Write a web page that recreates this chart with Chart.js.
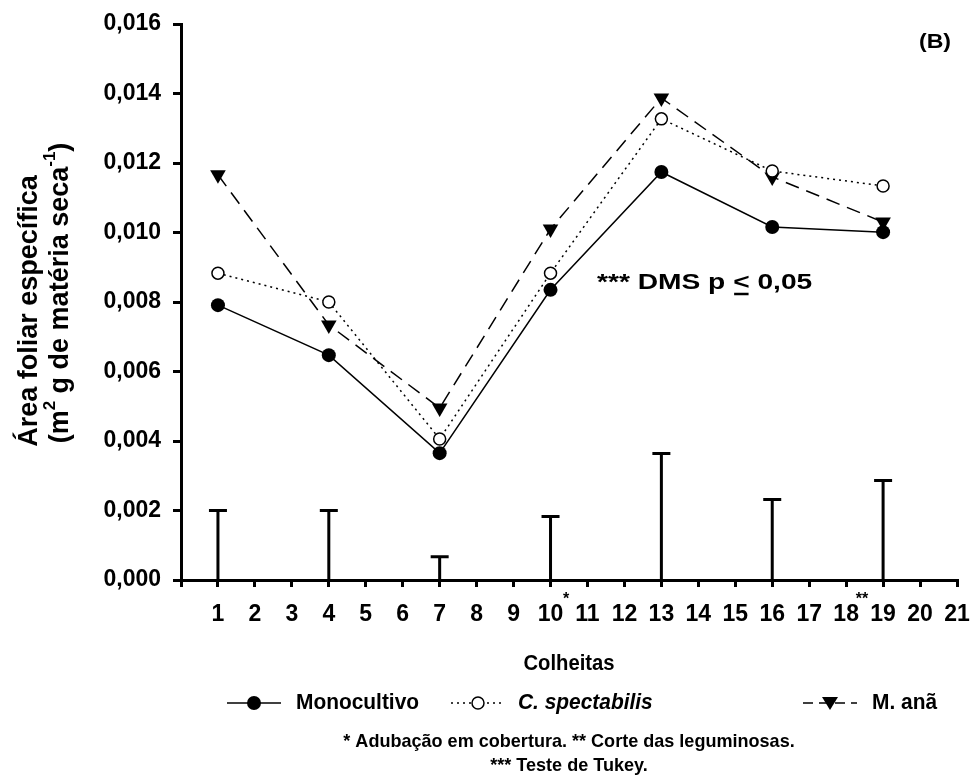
<!DOCTYPE html>
<html>
<head>
<meta charset="utf-8">
<script src="https://cdn.jsdelivr.net/npm/chart.js@4.4.1/dist/chart.umd.min.js"></script>
<style>
  html, body { margin: 0; padding: 0; background: #fff; }
  #chart { display: block; }
</style>
</head>
<body>
<canvas id="chart" width="971" height="781"></canvas>
<script>
// Colheitas (harvests) where the series were measured
const colheitas = [1, 4, 7, 10, 13, 16, 19];
const monocultivo = [0.00791, 0.00647, 0.00365, 0.00835, 0.01174, 0.01016, 0.01001];
const spectabilis = [0.00883, 0.00800, 0.00406, 0.00883, 0.01327, 0.01177, 0.01134];
const manA = [0.01166, 0.00734, 0.00495, 0.01010, 0.01387, 0.01160, 0.01030];
// DMS (Tukey, p <= 0,05) bars
const dms = [0.00200, 0.00200, 0.00067, 0.00183, 0.00364, 0.00232, 0.00286];

const xTickLabels = ['', '1', '2', '3', '4', '5', '6', '7', '8', '9', '10', '11',
  '12', '13', '14', '15', '16', '17', '18', '19', '20', '21'];
const yTickLabels = ['0,000', '0,002', '0,004', '0,006', '0,008', '0,010', '0,012', '0,014', '0,016'];

const FONT = '"Liberation Sans", Arial, sans-serif';

function toPoints(values) {
    return colheitas.map((c, i) => ({ x: c, y: values[i] }));
}

function bold(size) {
    return 'bold ' + size + 'px ' + FONT;
}

// text with a horizontal stretch (the figure's lettering is wider than plain Arial)
function stretchText(ctx, text, x, y, sx, align) {
    ctx.save();
    ctx.translate(x, y);
    ctx.scale(sx, 1);
    ctx.textAlign = align || 'left';
    ctx.fillText(text, 0, 0);
    ctx.restore();
    return ctx.measureText(text).width * sx;
}

// draws DMS bars, axis titles, legend and notes
const extrasPlugin = {
    id: 'extras',
    afterDatasetsDraw: function (chart) {
        const ctx = chart.ctx;
        const xs = chart.scales.x;
        const ys = chart.scales.y;
        ctx.save();
        ctx.strokeStyle = '#000';
        ctx.lineWidth = 3;
        ctx.lineCap = 'butt';
        dms.forEach((v, i) => {
            const px = xs.getPixelForValue(colheitas[i]);
            const top = ys.getPixelForValue(v);
            const base = ys.getPixelForValue(0);
            ctx.beginPath();
            ctx.moveTo(px, base);
            ctx.lineTo(px, top);
            ctx.moveTo(px - 9, top);
            ctx.lineTo(px + 9, top);
            ctx.stroke();
        });
        ctx.restore();
    },
    afterDraw: function (chart) {
        const ctx = chart.ctx;
        const area = chart.chartArea;
        const cx = (area.left + area.right) / 2;
        ctx.save();
        ctx.fillStyle = '#000';
        ctx.strokeStyle = '#000';
        ctx.textBaseline = 'middle';

        // y axis title (two rotated lines)
        ctx.save();
        ctx.translate(30, 311);
        ctx.rotate(-Math.PI / 2);
        ctx.font = bold(27);
        ctx.textAlign = 'center';
        ctx.fillText('Área foliar específica', 0, 0);
        ctx.restore();

        ctx.save();
        ctx.translate(61, 293);
        ctx.rotate(-Math.PI / 2);
        const parts = [
            { t: '(m', sup: false },
            { t: '2', sup: true },
            { t: ' g de matéria seca', sup: false },
            { t: '-1', sup: true },
            { t: ')', sup: false }
        ];
        let total = 0;
        parts.forEach(p => {
            ctx.font = p.sup ? bold(17) : bold(27);
            p.w = ctx.measureText(p.t).width;
            total += p.w;
        });
        let pos = -total / 2;
        ctx.textAlign = 'left';
        parts.forEach(p => {
            ctx.font = p.sup ? bold(17) : bold(27);
            ctx.fillText(p.t, pos, p.sup ? -11 : 0);
            pos += p.w;
        });
        ctx.restore();

        // x axis title
        ctx.font = bold(22);
        stretchText(ctx, 'Colheitas', cx, 664, 0.92, 'center');

        // event marks next to x labels
        ctx.font = bold(16);
        stretchText(ctx, '*', 566, 600, 1, 'center');
        stretchText(ctx, '**', 862, 600, 1, 'center');

        // panel label
        ctx.font = bold(21);
        stretchText(ctx, '(B)', 935, 42, 1.1, 'center');

        // DMS note
        ctx.font = bold(22);
        const sx = 1.28;
        let tx = 597;
        const ty = 283;
        tx += stretchText(ctx, '*** DMS p ', tx, ty, sx);
        const ltw = stretchText(ctx, '<', tx, ty, sx);
        ctx.lineWidth = 2.5;
        ctx.beginPath();
        ctx.moveTo(tx + 1, ty + 11);
        ctx.lineTo(tx + ltw - 1, ty + 11);
        ctx.stroke();
        tx += ltw;
        stretchText(ctx, ' 0,05', tx, ty, sx);

        // legend
        const ly = 703;
        const items = [
            { x: 254, text: 'Monocultivo', dash: [], marker: 'disc', italic: false, tx: 296 },
            { x: 478, text: 'C. spectabilis', dash: [2, 4], marker: 'ring', italic: true, tx: 518 },
            { x: 830, text: 'M. anã', dash: [10, 6], marker: 'tri', italic: false, tx: 872 }
        ];
        items.forEach(it => {
            ctx.save();
            ctx.lineWidth = 1.5;
            ctx.setLineDash(it.dash);
            ctx.beginPath();
            ctx.moveTo(it.x - 27, ly);
            ctx.lineTo(it.x + 27, ly);
            ctx.stroke();
            ctx.setLineDash([]);
            ctx.beginPath();
            if (it.marker === 'disc') {
                ctx.arc(it.x, ly, 7, 0, Math.PI * 2);
                ctx.fill();
            } else if (it.marker === 'ring') {
                ctx.arc(it.x, ly, 6, 0, Math.PI * 2);
                ctx.fillStyle = '#fff';
                ctx.fill();
                ctx.stroke();
            } else {
                ctx.moveTo(it.x - 8, ly - 6);
                ctx.lineTo(it.x + 8, ly - 6);
                ctx.lineTo(it.x, ly + 7);
                ctx.closePath();
                ctx.fill();
            }
            ctx.restore();
            ctx.font = (it.italic ? 'italic ' : '') + bold(22);
            stretchText(ctx, it.text, it.tx, ly, 0.95);
        });

        // footnotes
        ctx.font = bold(19);
        stretchText(ctx, '* Adubação em cobertura. ** Corte das leguminosas.', cx, 742, 0.95, 'center');
        stretchText(ctx, '*** Teste de Tukey.', cx, 766, 0.95, 'center');

        ctx.restore();
    }
};

const ctx = document.getElementById('chart').getContext('2d');
new Chart(ctx, {
    type: 'line',
    data: {
        datasets: [
            {
                label: 'Monocultivo',
                data: toPoints(monocultivo),
                borderColor: '#000',
                borderWidth: 1.5,
                pointStyle: 'circle',
                pointRadius: 7,
                pointBackgroundColor: '#000',
                pointBorderColor: '#000',
                pointBorderWidth: 0,
                tension: 0
            },
            {
                label: 'C. spectabilis',
                data: toPoints(spectabilis),
                borderColor: '#000',
                borderWidth: 1.5,
                borderDash: [2, 4],
                pointStyle: 'circle',
                pointRadius: 6,
                pointBackgroundColor: '#fff',
                pointBorderColor: '#000',
                pointBorderWidth: 1.5,
                tension: 0
            },
            {
                label: 'M. anã',
                data: toPoints(manA),
                borderColor: '#000',
                borderWidth: 1.5,
                borderDash: [14, 8],
                pointStyle: 'triangle',
                pointRotation: 180,
                pointRadius: 9,
                pointBackgroundColor: '#000',
                pointBorderColor: '#000',
                pointBorderWidth: 0,
                tension: 0
            }
        ]
    },
    options: {
        responsive: false,
        animation: false,
        events: [],
        layout: { padding: { left: 0, top: 24, right: 14, bottom: 141 } },
        plugins: {
            legend: { display: false },
            tooltip: { enabled: false }
        },
        scales: {
            x: {
                type: 'linear',
                min: 0,
                max: 21,
                afterFit: function (scale) {
                    scale.height = 60;
                    scale.paddingLeft = 0;
                    scale.paddingRight = 0;
                },
                border: { display: true, color: '#000', width: 3 },
                grid: { drawOnChartArea: false, drawTicks: true, tickLength: 7, lineWidth: 3, color: '#000' },
                ticks: {
                    stepSize: 1,
                    autoSkip: false,
                    maxRotation: 0,
                    padding: 14,
                    color: '#000',
                    font: { family: FONT, size: 23, weight: 'bold' },
                    callback: function (value) { return xTickLabels[value] ?? ''; }
                }
            },
            y: {
                min: 0,
                max: 0.016,
                afterFit: function (scale) {
                    scale.width = 181;
                    scale.paddingTop = 0;
                    scale.paddingBottom = 0;
                },
                border: { display: true, color: '#000', width: 3 },
                grid: { drawOnChartArea: false, drawTicks: true, tickLength: 8, lineWidth: 3, color: '#000' },
                ticks: {
                    stepSize: 0.002,
                    padding: 12,
                    color: '#000',
                    font: { family: FONT, size: 23, weight: 'bold' },
                    callback: function (value) { return yTickLabels[Math.round(value / 0.002)] ?? ''; }
                }
            }
        }
    },
    plugins: [extrasPlugin]
});
</script>
</body>
</html>
